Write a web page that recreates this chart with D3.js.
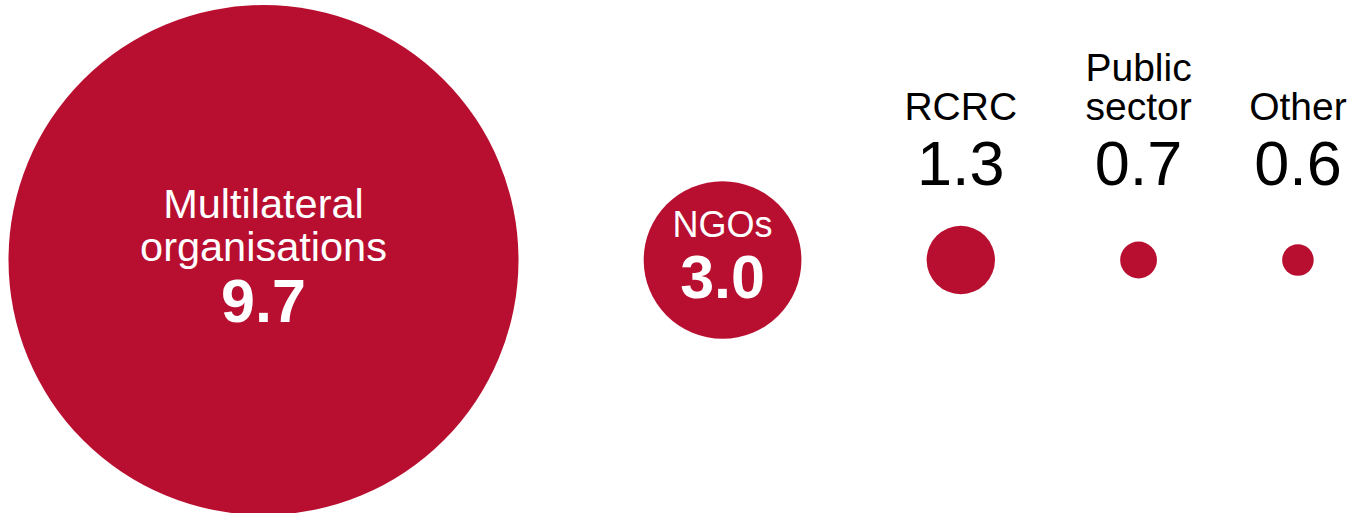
<!DOCTYPE html>
<html>
<head>
<meta charset="utf-8">
<script src="https://cdn.jsdelivr.net/npm/d3@7"></script>
<style>
  html, body { margin: 0; padding: 0; background: #fff; }
  text { font-family: "Liberation Sans", Arial, Helvetica, sans-serif; }
</style>
</head>
<body>
<div id="chart"></div>
<script>
const categories = ['Multilateral organisations', 'NGOs', 'RCRC', 'Public sector', 'Other']
const categoryLines = [['Multilateral', 'organisations'], ['NGOs'], ['RCRC'], ['Public', 'sector'], ['Other']]
const values = [9.7, 3.0, 1.3, 0.7, 0.6]

const width = 1369
const height = 513
const cy = 260
const maxR = 255
const left = 8.5
const right = 1313.7
const red = '#b80f31'

const rScale = d3.scaleLinear().domain([0, d3.max(values)]).range([0, maxR])
const fmt = d3.format('.1f')

// lay circles out left to right with an equal gap between their edges
const radii = values.map((v) => rScale(v))
const gap = (right - left - 2 * d3.sum(radii)) / (values.length - 1)
let cursor = left
const nodes = values.map((v, i) => {
    const r = radii[i]
    const cx = cursor + r
    cursor = cx + r + gap
    return { name: categories[i], lines: categoryLines[i], value: v, r, cx }
})

const svg = d3.select('#chart')
    .append('svg')
    .attr('width', width)
    .attr('height', height)

svg.selectAll('circle')
    .data(nodes)
    .enter()
    .append('circle')
    .attr('cx', (d) => d.cx)
    .attr('cy', cy)
    .attr('r', (d) => d.r)
    .style('fill', red)

// labels inside the large circles
const inside = nodes.filter((d) => d.r > 60)
inside.forEach((d) => {
    const f = d.r > 150 ? 41.5 : 36
    const lh = 43
    const valGap = 61
    const span = 0.716 * f + (d.lines.length - 1) * lh + valGap
    const b1 = cy - 5 - span / 2 + 0.716 * f
    const g = svg.append('g').attr('text-anchor', 'middle').style('fill', '#fff')
    d.lines.forEach((line, j) => {
        g.append('text')
            .attr('x', d.cx)
            .attr('y', b1 + j * lh)
            .style('font-size', f + 'px')
            .text(line)
    })
    g.append('text')
        .attr('x', d.cx)
        .attr('y', b1 + (d.lines.length - 1) * lh + valGap)
        .style('font-size', '61px')
        .style('font-weight', 'bold')
        .text(fmt(d.value))
})

// labels above the small circles
const valueBase = 185
const outside = nodes.filter((d) => d.r <= 60)
outside.forEach((d) => {
    const g = svg.append('g').attr('text-anchor', 'middle').style('fill', '#000')
    const n = d.lines.length
    d.lines.forEach((line, j) => {
        g.append('text')
            .attr('x', d.cx)
            .attr('y', valueBase - 65 - (n - 1 - j) * 39)
            .style('font-size', '39px')
            .text(line)
    })
    g.append('text')
        .attr('x', d.cx)
        .attr('y', valueBase)
        .style('font-size', '63px')
        .text(fmt(d.value))
})
</script>
</body>
</html>
